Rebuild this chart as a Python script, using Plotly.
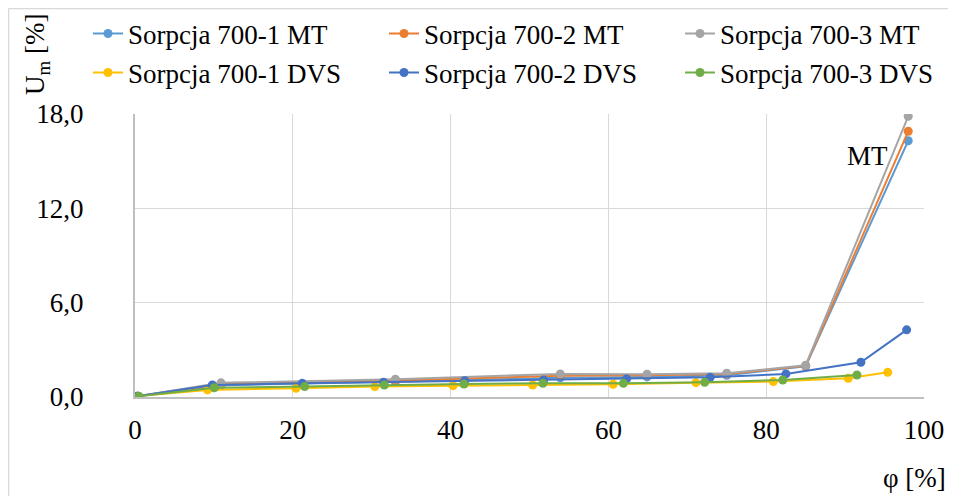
import plotly.graph_objects as go

# MT series (shared humidity levels)
x_mt = [0.3, 10.9, 33.0, 53.9, 64.9, 75.0, 85.0, 98.0]
y_700_1_mt = [0.05, 0.75, 0.97, 1.22, 1.28, 1.38, 1.95, 16.3]
y_700_2_mt = [0.05, 0.82, 1.05, 1.35, 1.38, 1.46, 1.98, 16.9]
y_700_3_mt = [0.05, 0.90, 1.13, 1.47, 1.45, 1.51, 2.02, 17.85]

# DVS series
x_700_1_dvs = [0.0, 9.2, 20.4, 30.4, 40.3, 50.4, 60.6, 71.1, 80.9, 90.4, 95.4]
y_700_1_dvs = [0.05, 0.45, 0.55, 0.66, 0.72, 0.76, 0.81, 0.91, 0.98, 1.19, 1.57]
x_700_2_dvs = [0.3, 9.8, 21.2, 31.5, 41.8, 51.8, 62.3, 72.9, 82.5, 92.0, 97.8]
y_700_2_dvs = [0.05, 0.76, 0.87, 0.94, 1.04, 1.08, 1.15, 1.25, 1.47, 2.21, 4.27]
x_700_3_dvs = [0.5, 10.05, 21.5, 31.6, 41.7, 51.7, 61.9, 72.2, 82.1, 91.5]
y_700_3_dvs = [0.05, 0.59, 0.66, 0.76, 0.83, 0.87, 0.87, 0.94, 1.08, 1.40]

x_ticks = [0, 20, 40, 60, 80, 100]
y_ticks = [0, 6, 12, 18]

FONT = "Liberation Serif"
FS = 27

series = [
    ("Sorpcja 700-1 MT", x_mt, y_700_1_mt, "#5B9BD5", "legend"),
    ("Sorpcja 700-2 MT", x_mt, y_700_2_mt, "#ED7D31", "legend"),
    ("Sorpcja 700-3 MT", x_mt, y_700_3_mt, "#A5A5A5", "legend"),
    ("Sorpcja 700-1 DVS", x_700_1_dvs, y_700_1_dvs, "#FFC000", "legend2"),
    ("Sorpcja 700-2 DVS", x_700_2_dvs, y_700_2_dvs, "#4472C4", "legend2"),
    ("Sorpcja 700-3 DVS", x_700_3_dvs, y_700_3_dvs, "#70AD47", "legend2"),
]

fig = go.Figure()
for name, xs, ys, col, leg in series:
    fig.add_trace(go.Scatter(
        x=xs, y=ys, name=name, mode="lines+markers",
        line=dict(color=col, width=2),
        marker=dict(color=col, size=9),
        legend=leg,
    ))

# figure is placed at (8, 8) in the page, so work in figure pixels
W, H = 948, 488
L, R, T, B = 127, 32, 106, 99
pw = W - L - R
ph = H - T - B

def px_x(p):
    return (p - L) / pw

def px_y(p):
    return (H - B - p) / ph

leg_common = dict(
    orientation="h", xanchor="left", yanchor="middle",
    font=dict(family=FONT, size=FS, color="#000000"),
    entrywidth=251, entrywidthmode="pixels",
    bgcolor="rgba(0,0,0,0)", borderwidth=0, itemwidth=30,
)

fig.update_layout(
    width=W, height=H,
    margin=dict(l=L, r=R, t=T, b=B, autoexpand=False),
    paper_bgcolor="white", plot_bgcolor="white",
    separators=", ",
    font=dict(family=FONT, size=FS, color="#000000"),
    showlegend=True,
    legend=dict(x=px_x(80), y=px_y(26), **leg_common),
    legend2=dict(x=px_x(80), y=px_y(65), **leg_common),
    xaxis=dict(
        range=[0, 100], tickvals=x_ticks, showgrid=True, gridcolor="#D9D9D9",
        gridwidth=1, showline=True, linecolor="#BFBFBF", linewidth=2,
        zeroline=False, ticks="outside", ticklen=8, tickcolor="rgba(0,0,0,0)",
        tickfont=dict(family=FONT, size=FS, color="#000000"),
    ),
    yaxis=dict(
        range=[0, 18], tickvals=y_ticks, tickformat=".1f", showgrid=True,
        gridcolor="#D9D9D9", gridwidth=1, showline=True, linecolor="#BFBFBF",
        linewidth=2, zeroline=False, ticks="outside", ticklen=44,
        tickcolor="rgba(0,0,0,0)",
        tickfont=dict(family=FONT, size=FS, color="#000000"),
    ),
    annotations=[
        dict(text="MT", x=92.8, y=15.3, xref="x", yref="y", showarrow=False,
             font=dict(family=FONT, size=FS, color="#000000")),
        dict(text="U<sub>m</sub> [%]", x=px_x(29), y=px_y(47), xref="paper",
             yref="paper", textangle=-90, showarrow=False,
             xanchor="center", yanchor="middle",
             font=dict(family=FONT, size=FS, color="#000000")),
        dict(text="φ [%]", x=px_x(940), y=px_y(470), xref="paper", yref="paper",
             xanchor="right", yanchor="middle", showarrow=False,
             font=dict(family=FONT, size=FS, color="#000000")),
    ],
    shapes=[
        dict(type="line", xref="paper", yref="paper", x0=px_x(0.5), x1=px_x(0.5),
             y0=px_y(0.5), y1=px_y(600), line=dict(color="#D9D9D9", width=1.5)),
        dict(type="line", xref="paper", yref="paper", x0=px_x(0.5), x1=px_x(1000),
             y0=px_y(0.5), y1=px_y(0.5), line=dict(color="#D9D9D9", width=1.5)),
    ],
)

fig.write_html("out.html")
